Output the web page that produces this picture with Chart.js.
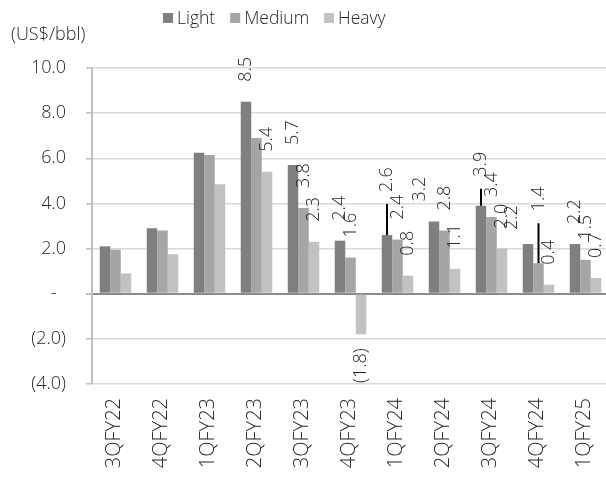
<!DOCTYPE html>
<html>
<head>
<meta charset="utf-8">
<script src="https://cdn.jsdelivr.net/npm/chart.js@4.4.1/dist/chart.umd.min.js"></script>
<style>
  body { margin: 0; overflow: hidden; background: #fff; }
  #wrap { position: absolute; left: 0; top: 0; width: 612px; height: 479px; }
  #unit { position: absolute; left: 11px; top: 21px; font: 300 18px "Open Sans", sans-serif; color: #262626; }
</style>
</head>
<body>
<div id="wrap"><canvas id="spreadChart"></canvas></div>
<div id="unit">(US$/bbl)</div>
<script>
const quarters = ["3QFY22", "4QFY22", "1QFY23", "2QFY23", "3QFY23", "4QFY23",
  "1QFY24", "2QFY24", "3QFY24", "4QFY24", "1QFY25"];
const light = [2.1, 2.9, 6.25, 8.5, 5.7, 2.35, 2.6, 3.2, 3.9, 2.2, 2.2];
const medium = [1.95, 2.8, 6.15, 6.9, 3.8, 1.6, 2.4, 2.8, 3.4, 1.35, 1.5];
const heavy = [0.9, 1.75, 4.85, 5.4, 2.3, -1.8, 0.8, 1.1, 2.0, 0.4, 0.7];
const yTicks = [-4, -2, 0, 2, 4, 6, 8, 10];

// data labels only shown from 2QFY23 on, and not for 2QFY23 medium
const labelFrom = 3;
const hiddenLabels = ["1-3"];
// a few labels were dragged around by hand in the original, some with a leader line
const labelNudges = {
  "0-6": { dx: 0, dy: -23, leader: true },
  "0-7": { dx: -14, dy: 0 },
  "0-8": { dx: 0, dy: -9, leader: true },
  "0-9": { dx: -16, dy: 6 },
  "1-9": { dx: 0, dy: -32, leader: true },
};

const font = '"Open Sans", sans-serif';
const textColor = "#262626";

function fmt(v) {
  if (v === 0) return "-  ";
  if (v < 0) return "(" + Math.abs(v).toFixed(1) + ")";
  return v.toFixed(1);
}

const drawExtras = {
  id: "drawExtras",
  afterDatasetsDraw(chart) {
    const ctx = chart.ctx;
    ctx.save();
    ctx.fillStyle = textColor;
    ctx.font = "300 18px " + font;
    ctx.textBaseline = "middle";

    // value labels, rotated
    chart.data.datasets.forEach((ds, i) => {
      const meta = chart.getDatasetMeta(i);
      meta.data.forEach((bar, j) => {
        const key = i + "-" + j;
        if (j < labelFrom || hiddenLabels.includes(key)) return;
        const v = ds.data[j];
        const n = labelNudges[key] || { dx: 0, dy: 0 };
        ctx.save();
        if (v >= 0) {
          const ly = bar.y - 20 + n.dy;
          if (n.leader) {
            ctx.strokeStyle = "#000";
            ctx.lineWidth = 2;
            ctx.beginPath();
            ctx.moveTo(bar.x, bar.y);
            ctx.lineTo(bar.x, ly + 12);
            ctx.stroke();
          }
          ctx.translate(bar.x + n.dx, ly);
          ctx.rotate(-Math.PI / 2);
          ctx.textAlign = "left";
        } else {
          ctx.translate(bar.x + n.dx, bar.y + 14 + n.dy);
          ctx.rotate(-Math.PI / 2);
          ctx.textAlign = "right";
        }
        ctx.fillText(fmt(v), 0, 0);
        ctx.restore();
      });
    });

    // category labels, reading upwards
    const xs = chart.scales.x;
    ctx.font = "300 20px " + font;
    quarters.forEach((q, j) => {
      ctx.save();
      ctx.translate(xs.getPixelForValue(j) - 1, 398);
      ctx.rotate(-Math.PI / 2);
      ctx.textAlign = "right";
      ctx.fillText(q, 0, 0);
      ctx.restore();
    });

    // legend
    ctx.font = "300 17.5px " + font;
    let x = 163;
    ctx.textAlign = "left";
    ctx.textBaseline = "alphabetic";
    chart.data.datasets.forEach((ds) => {
      ctx.fillStyle = ds.backgroundColor;
      ctx.fillRect(x, 13, 10, 10);
      ctx.fillStyle = textColor;
      ctx.fillText(ds.label, x + 14, 24);
      x += 14 + ctx.measureText(ds.label).width + 15;
    });
    ctx.restore();
  },
};

new Chart(document.getElementById("spreadChart"), {
  type: "bar",
  data: {
    labels: quarters,
    datasets: [
      { label: "Light", data: light, backgroundColor: "#7f7f7f" },
      { label: "Medium", data: medium, backgroundColor: "#a5a5a5" },
      { label: "Heavy", data: heavy, backgroundColor: "#c2c2c2" },
    ],
  },
  options: {
    responsive: true,
    maintainAspectRatio: false,
    animation: false,
    layout: { padding: { top: 68, right: 3, left: 0, bottom: 0 } },
    datasets: { bar: { categoryPercentage: 0.67, barPercentage: 1 } },
    plugins: { legend: { display: false }, tooltip: { enabled: false } },
    scales: {
      x: {
        grid: { display: false },
        border: { display: false },
        ticks: { display: false },
        afterFit(scale) { scale.height = 95; },
      },
      y: {
        min: -4,
        max: 10,
        afterBuildTicks(scale) { scale.ticks = yTicks.map((v) => ({ value: v })); },
        afterFit(scale) { scale.width = 92; },
        border: { color: "#bfbfbf", width: 2 },
        grid: {
          color: (c) => (c.tick && c.tick.value === 0 ? "#8c8c8c" : "#d9d9d9"),
          lineWidth: (c) => (c.tick && c.tick.value === 0 ? 2 : 1.5),
          tickLength: 6,
          tickColor: "#bfbfbf",
        },
        ticks: {
          padding: 20,
          color: textColor,
          font: { family: font, size: 18, weight: 300 },
          callback: (v) => fmt(v),
        },
      },
    },
  },
  plugins: [drawExtras],
});
</script>
</body>
</html>
